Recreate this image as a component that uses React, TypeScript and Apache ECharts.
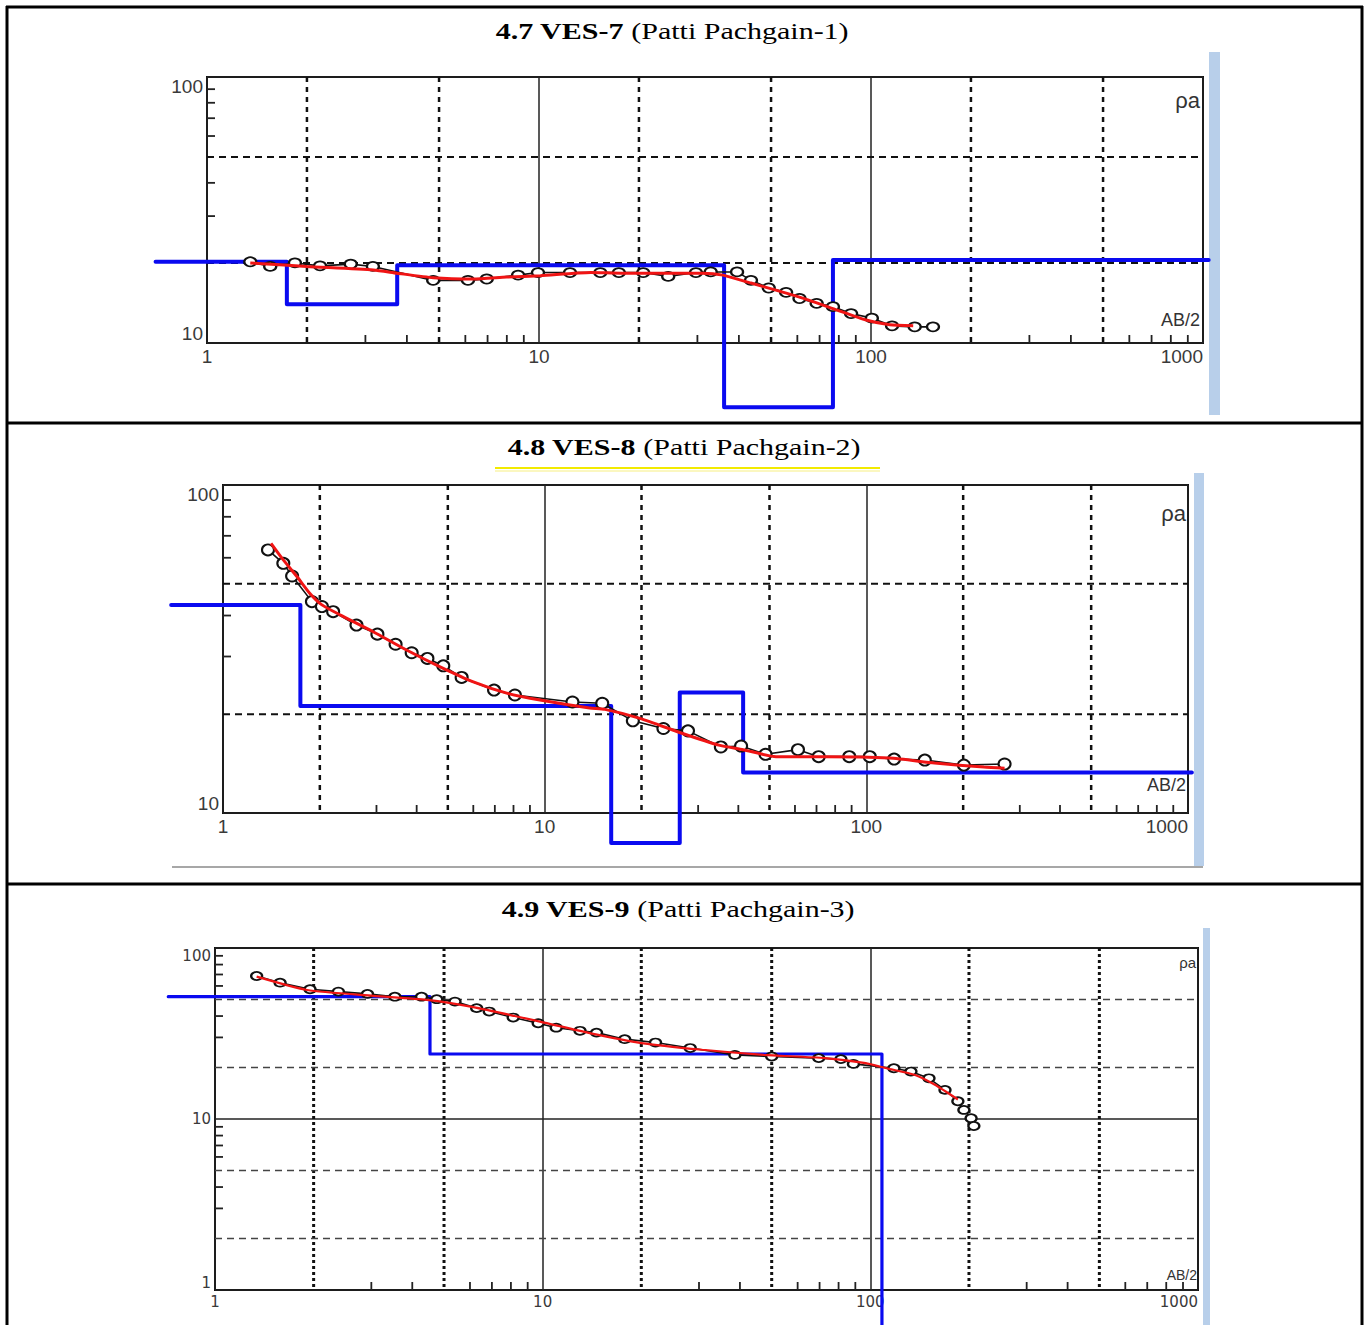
import React, { useEffect, useRef } from "react";
import * as echarts from "echarts";

// ---------- shared guide positions (AB/2 and rho_a values) ----------
const X_DOTTED = [2, 5, 20, 50, 200, 500];
const X_MINOR = [3, 4, 6, 7, 8, 9, 30, 40, 60, 70, 80, 90, 300, 400, 600, 700, 800, 900];
const Y_DASHED_ONE_DECADE = [20, 50];
const Y_MINOR_ONE_DECADE = [30, 40, 60, 70, 80, 90];
const Y_DASHED_TWO_DECADES = [2, 5, 20, 50];
const Y_MINOR_TWO_DECADES = [3, 4, 6, 7, 8, 9, 30, 40, 60, 70, 80, 90];

const TITLE_BOLD = ["4.7 VES-7", "4.8 VES-8", "4.9 VES-9"];
const TITLE_PLAIN = ["(Patti Pachgain-1)", "(Patti Pachgain-2)", "(Patti Pachgain-3)"];

// ---------- VES-7 ----------
const VES7_OBS_AB2 = [1.35, 1.55, 1.84, 2.19, 2.71, 3.16, 4.8, 6.11, 6.96, 8.65, 9.93, 12.4, 15.3, 17.4, 20.6, 24.5, 29.7, 32.9, 39.5, 43.5, 49.2, 55.5, 60.9, 68.6, 76.8, 87.1, 100.6, 115.7, 135.4, 153.7];
const VES7_OBS_RHO = [20.2, 19.4, 20.0, 19.5, 19.8, 19.4, 17.2, 17.2, 17.4, 18.0, 18.4, 18.4, 18.4, 18.4, 18.4, 17.8, 18.4, 18.5, 18.5, 17.2, 16.1, 15.5, 14.7, 14.1, 13.7, 12.9, 12.4, 11.6, 11.5, 11.5];
const VES7_FIT_AB2 = [1.35, 2.0, 3.17, 3.73, 4.8, 6.33, 7.99, 10.1, 14.3, 17.7, 31.0, 35.8, 43.5, 51.7, 64.9, 79.0, 96.6, 114, 134];
const VES7_FIT_RHO = [20.0, 19.4, 18.8, 18.3, 17.6, 17.4, 17.7, 17.9, 18.4, 18.3, 18.3, 18.0, 16.8, 15.8, 14.5, 13.3, 12.2, 11.7, 11.6];
const VES7_MODEL_DEPTH = [0.7, 1.74, 3.74, 36.1, 76.8, 1040];
const VES7_MODEL_RHO = [20.2, 14.0, 19.6, 5.74, 20.5];

// ---------- VES-8 ----------
const VES8_OBS_AB2 = [1.38, 1.54, 1.64, 1.89, 2.03, 2.2, 2.6, 3.02, 3.44, 3.86, 4.32, 4.84, 5.52, 6.96, 8.08, 12.2, 15.1, 18.8, 23.4, 27.9, 35.3, 40.8, 48.6, 61.3, 71.1, 88.5, 102.5, 122, 152, 201, 269];
const VES8_OBS_RHO = [63.4, 57.7, 52.8, 44.1, 42.6, 41.1, 37.4, 35.1, 32.7, 30.8, 29.6, 28.1, 25.9, 23.7, 22.9, 21.8, 21.6, 19.1, 18.1, 17.8, 15.9, 16.0, 15.1, 15.6, 14.85, 14.85, 14.85, 14.6, 14.5, 14.0, 14.1];
const VES8_FIT_AB2 = [1.41, 1.54, 1.7, 1.86, 2.03, 2.31, 2.93, 3.72, 4.73, 6.0, 7.62, 9.67, 13.8, 15.4, 19.9, 26.7, 34.8, 41.4, 52.4, 74.3, 118, 163, 232, 269];
const VES8_FIT_RHO = [66.4, 59.1, 52.5, 46.8, 43.1, 40.2, 35.7, 31.4, 27.9, 25.1, 23.2, 22.1, 20.9, 20.7, 19.4, 17.5, 16.1, 15.6, 14.85, 14.85, 14.7, 14.2, 13.8, 13.7];
const VES8_MODEL_DEPTH = [0.69, 1.74, 16.1, 26.3, 41.4, 1028];
const VES8_MODEL_RHO = [43.1, 21.2, 8.1, 23.3, 13.3];

// ---------- VES-9 ----------
const VES9_OBS_AB2 = [1.34, 1.58, 1.95, 2.38, 2.92, 3.54, 4.27, 4.75, 5.4, 6.29, 6.87, 8.13, 9.69, 11.0, 13.0, 14.6, 17.8, 22.1, 28.2, 38.6, 50.0, 69.6, 81.3, 88.8, 118, 133, 151, 169, 185, 193, 203, 207];
const VES9_OBS_RHO = [68.6, 62.7, 57.4, 55.6, 53.9, 51.9, 51.9, 50.2, 48.6, 44.5, 42.5, 39.2, 36.3, 34.2, 32.8, 32.0, 29.3, 28.0, 26.0, 23.7, 23.2, 22.7, 22.4, 21.0, 19.8, 18.95, 17.3, 14.8, 12.7, 11.3, 10.1, 9.1];
const VES9_FIT_AB2 = [1.34, 1.91, 3.04, 4.43, 6.14, 9.81, 13.9, 20.0, 30.7, 47.3, 72.7, 96.8, 112, 137, 157, 185];
const VES9_FIT_RHO = [68.0, 56.8, 52.5, 49.7, 45.1, 37.1, 31.8, 27.8, 25.4, 23.7, 22.7, 21.2, 19.8, 18.1, 15.9, 13.0];
const VES9_MODEL_DEPTH = [0.72, 4.53, 108.5, 108.5];
const VES9_MODEL_RHO = [51.9, 24.0, 0.55];

const zip = (xs: number[], ys: number[]) => xs.map((x, i) => [x, ys[i]]);
const steps = (depths: number[], rhos: number[]) => {
  const pts: number[][] = [];
  rhos.forEach((r, i) => {
    pts.push([depths[i], r], [depths[i + 1], r]);
  });
  return pts;
};

type GuideStyle = {
  vWidth: number;
  vDash: number[];
  hWidth: number;
  hDash: number[];
  hColor: string;
};

function guideSeries(i: number, yMin: number, yDashed: number[], yMinor: number[], st: GuideStyle) {
  const data = [
    ...X_DOTTED.map((v) => [v, yMin, 0]),
    ...X_MINOR.map((v) => [v, yMin, 1]),
    ...yDashed.map((v) => [1, v, 2]),
    ...yMinor.map((v) => [1, v, 3]),
  ];
  return {
    type: "custom",
    xAxisIndex: i,
    yAxisIndex: i,
    coordinateSystem: "cartesian2d",
    silent: true,
    z: 1,
    data,
    renderItem: (params: any, api: any) => {
      const cs = params.coordSys;
      const k = api.value(2);
      const bottom = cs.y + cs.height;
      const right = cs.x + cs.width;
      if (k === 0 || k === 1) {
        const x = api.coord([api.value(0), yMin])[0];
        if (k === 0)
          return { type: "line", shape: { x1: x, y1: cs.y, x2: x, y2: bottom }, style: { stroke: "#111", lineWidth: st.vWidth, lineDash: st.vDash } };
        return { type: "line", shape: { x1: x, y1: bottom, x2: x, y2: bottom - 8 }, style: { stroke: "#222", lineWidth: 1.8 } };
      }
      const y = api.coord([1, api.value(1)])[1];
      if (k === 2)
        return { type: "line", shape: { x1: cs.x, y1: y, x2: right, y2: y }, style: { stroke: st.hColor, lineWidth: st.hWidth, lineDash: st.hDash } };
      return { type: "line", shape: { x1: cs.x, y1: y, x2: cs.x + 8, y2: y }, style: { stroke: "#222", lineWidth: 1.8 } };
    },
  };
}

const GRIDS = [
  { left: 207, top: 77, width: 996, height: 266 },
  { left: 223, top: 485, width: 965, height: 328 },
  { left: 215, top: 948, width: 983, height: 342 },
];
const Y_MIN = [10, 10, 1];
// the layered model line runs past the frame: an unframed twin grid with a wider extent
const MODEL_X_EXTENT = [0.5, 2000];
const MODEL_Y_MIN = [5, 5, 0.8];

const lg = Math.log10;
function twinGrid(i: number) {
  const g = GRIDS[i];
  const pxX = g.width / (lg(1000) - lg(1));
  const pxY = g.height / (lg(100) - lg(Y_MIN[i]));
  return {
    left: g.left - (lg(1) - lg(MODEL_X_EXTENT[0])) * pxX,
    top: g.top,
    width: (lg(MODEL_X_EXTENT[1]) - lg(MODEL_X_EXTENT[0])) * pxX,
    height: (lg(100) - lg(MODEL_Y_MIN[i])) * pxY,
    show: false,
  };
}

export default function App() {
  const ref = useRef<HTMLDivElement>(null);
  useEffect(() => {
    document.body.style.margin = "0";
    const chart = echarts.init(ref.current!, null, { renderer: "svg" });

    const labelBig = { fontSize: 19, fontFamily: "Liberation Sans, Arial, sans-serif", color: "#3a3a3a" };
    const labelSmall = { fontSize: 15, fontFamily: "DejaVu Sans, sans-serif", color: "#3a3a3a" };
    const labels = [labelBig, labelBig, labelSmall];

    const xAxis: any[] = GRIDS.map((_, i) => ({
      type: "log",
      logBase: 10,
      gridIndex: i,
      min: 1,
      max: 1000,
      axisLine: { show: false },
      axisTick: { show: false },
      splitLine: { show: true, lineStyle: { color: "#222", width: 1.5 } },
      axisLabel: { ...labels[i], margin: 4, alignMaxLabel: "right", formatter: (v: number) => String(v) },
    }));
    const yAxis: any[] = GRIDS.map((_, i) => ({
      type: "log",
      logBase: 10,
      gridIndex: i,
      min: Y_MIN[i],
      max: 100,
      axisLine: { show: false },
      axisTick: { show: false },
      splitLine: { show: true, lineStyle: { color: "#222", width: 1.5 } },
      axisLabel: { ...labels[i], margin: 4, verticalAlignMinLabel: "bottom", verticalAlignMaxLabel: "top", formatter: (v: number) => String(v) },
    }));
    GRIDS.forEach((_, i) => {
      xAxis.push({ type: "log", logBase: 10, gridIndex: 3 + i, min: MODEL_X_EXTENT[0], max: MODEL_X_EXTENT[1], show: false });
      yAxis.push({ type: "log", logBase: 10, gridIndex: 3 + i, min: MODEL_Y_MIN[i], max: 100, show: false });
    });

    const dashedStyle: GuideStyle = { vWidth: 2.5, vDash: [5, 5], hWidth: 2, hDash: [7, 5], hColor: "#111" };
    const dottedStyle: GuideStyle = { vWidth: 3, vDash: [3, 3], hWidth: 1.6, hDash: [7, 5], hColor: "#444" };

    const panels = [
      { obs: zip(VES7_OBS_AB2, VES7_OBS_RHO), fit: zip(VES7_FIT_AB2, VES7_FIT_RHO), model: steps(VES7_MODEL_DEPTH, VES7_MODEL_RHO), blueW: 4, redW: 3, sym: [12, 9] },
      { obs: zip(VES8_OBS_AB2, VES8_OBS_RHO), fit: zip(VES8_FIT_AB2, VES8_FIT_RHO), model: steps(VES8_MODEL_DEPTH, VES8_MODEL_RHO), blueW: 4, redW: 3, sym: [12, 11] },
      { obs: zip(VES9_OBS_AB2, VES9_OBS_RHO), fit: zip(VES9_FIT_AB2, VES9_FIT_RHO), model: steps(VES9_MODEL_DEPTH, VES9_MODEL_RHO), blueW: 3.2, redW: 2.2, sym: [11, 8] },
    ];

    const series: any[] = [
      guideSeries(0, 10, Y_DASHED_ONE_DECADE, Y_MINOR_ONE_DECADE, dashedStyle),
      guideSeries(1, 10, Y_DASHED_ONE_DECADE, Y_MINOR_ONE_DECADE, dashedStyle),
      guideSeries(2, 1, Y_DASHED_TWO_DECADES, Y_MINOR_TWO_DECADES, dottedStyle),
    ];
    panels.forEach((p, i) => {
      series.push({
        type: "line",
        xAxisIndex: 3 + i,
        yAxisIndex: 3 + i,
        data: p.model,
        clip: false,
        showSymbol: false,
        z: 2,
        lineStyle: { color: "#0a0af0", width: p.blueW, join: "round", cap: "round" },
      });
      series.push({
        type: "line",
        xAxisIndex: i,
        yAxisIndex: i,
        data: p.obs,
        clip: false,
        symbol: "emptyCircle",
        symbolSize: p.sym,
        showSymbol: true,
        z: 3,
        itemStyle: { color: "#111", borderWidth: 1.6 },
        lineStyle: { color: "#111", width: 1.6 },
      });
      series.push({
        type: "line",
        xAxisIndex: i,
        yAxisIndex: i,
        data: p.fit,
        clip: false,
        showSymbol: false,
        smooth: 0.2,
        z: 4,
        lineStyle: { color: "#f01414", width: p.redW },
      });
    });

    const titleY = [31, 447, 909];
    const titleX = [672, 684, 678];
    const graphic: any[] = [];
    const border = { stroke: "#000", lineWidth: 3 };
    graphic.push(
      { type: "line", shape: { x1: 7, y1: 6, x2: 7, y2: 1325 }, style: border },
      { type: "line", shape: { x1: 1362, y1: 6, x2: 1362, y2: 1325 }, style: border },
      { type: "line", shape: { x1: 6, y1: 7, x2: 1363, y2: 7 }, style: border },
      { type: "line", shape: { x1: 6, y1: 423, x2: 1363, y2: 423 }, style: border },
      { type: "line", shape: { x1: 6, y1: 884, x2: 1363, y2: 884 }, style: border }
    );
    TITLE_BOLD.forEach((b, i) => {
      graphic.push({
        type: "text",
        x: titleX[i],
        y: titleY[i],
        scaleX: 1.25,
        style: {
          text: `{b|${b}} {n|${TITLE_PLAIN[i]}}`,
          x: 0,
          y: 0,
          align: "center",
          verticalAlign: "middle",
          fill: "#000",
          font: "24px Liberation Serif",
          rich: {
            b: { fontFamily: "Liberation Serif", fontSize: 24, fontWeight: "bold", fill: "#000" },
            n: { fontFamily: "Liberation Serif", fontSize: 24, fill: "#000" },
          },
        },
      });
    });
    graphic.push(
      { type: "line", shape: { x1: 495, y1: 468, x2: 880, y2: 468 }, style: { stroke: "#f2ea00", lineWidth: 2 } },
      { type: "line", shape: { x1: 495, y1: 471, x2: 880, y2: 471 }, style: { stroke: "#fbf7c0", lineWidth: 2 } }
    );
    const bars = [
      [1209, 52, 11, 363],
      [1194, 473, 10, 393],
      [1203, 928, 7, 397],
    ];
    bars.forEach(([x, y, w, h]) =>
      graphic.push({ type: "rect", shape: { x, y, width: w, height: h }, style: { fill: "#b8cfea" } })
    );
    graphic.push({ type: "line", shape: { x1: 172, y1: 867, x2: 1203, y2: 867 }, style: { stroke: "#8a8a8a", lineWidth: 1.5 } });
    const rhoPos = [[1200, 100, 22], [1186, 513, 22], [1196, 962, 15]];
    const abPos = [[1200, 320, 18], [1186, 785, 18], [1197, 1275, 14]];
    rhoPos.forEach(([x, y, s]) =>
      graphic.push({ type: "text", x, y, z: 10, style: { text: "ρa", align: "right", verticalAlign: "middle", fill: "#333", font: `${s}px Liberation Sans` } })
    );
    abPos.forEach(([x, y, s]) =>
      graphic.push({ type: "text", x, y, z: 10, style: { text: "AB/2", align: "right", verticalAlign: "middle", fill: "#333", font: `${s}px Liberation Sans` } })
    );

    chart.setOption({
      animation: false,
      backgroundColor: "#fff",
      grid: [
        ...GRIDS.map((g) => ({ ...g, show: true, borderColor: "#111", borderWidth: 2, backgroundColor: "transparent" })),
        ...GRIDS.map((_, i) => twinGrid(i)),
      ],
      xAxis,
      yAxis,
      series,
      graphic,
    });
    return () => chart.dispose();
  }, []);
  return <div ref={ref} style={{ width: 1365, height: 1325 }} />;
}
